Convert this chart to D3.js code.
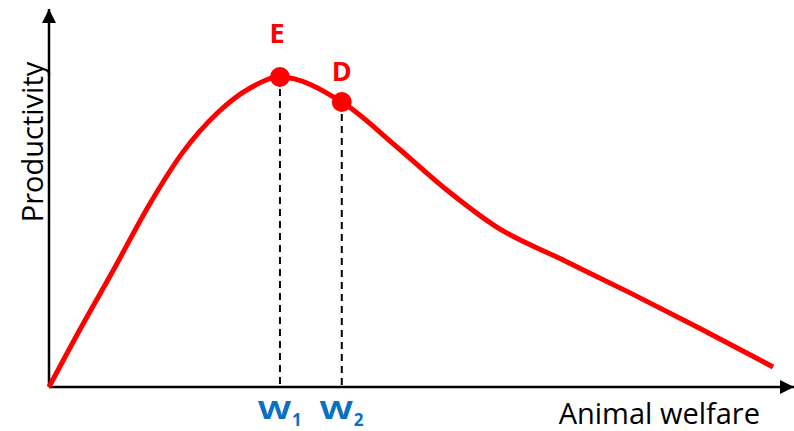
<!DOCTYPE html>
<html><head><meta charset="utf-8">
<script src="https://cdn.jsdelivr.net/npm/d3@7"></script>
<style>body{margin:0;background:#fff}svg{display:block}</style>
</head><body>
<svg id="c" width="794" height="431"></svg>
<script>
// Data (abstract units)
const curveX = [0, 0.39, 0.85, 1.36, 1.80, 2.26, 2.70, 3.10, 3.93, 4.67, 5.34, 6.01, 6.90, 7.80, 8.70, 9.72];
const curveY = [0, 1.43, 3.04, 4.87, 6.22, 7.25, 7.91, 8.20, 7.54, 6.35, 5.21, 4.23, 3.36, 2.49, 1.59, 0.53];
const pointNames = ["E", "D"];
const pointX = [3.10, 3.93];
const pointY = [8.20, 7.54];
const tickLabels = ["1", "2"];
const xTitle = "Animal welfare";
const yTitle = "Productivity";

const svg = d3.select("#c");
const x = d3.scaleLinear().domain([0, 10]).range([49, 794]);
const y = d3.scaleLinear().domain([0, 10]).range([387, 9]);

const defs = svg.append("defs");
defs.append("marker").attr("id","arr").attr("viewBox","0 0 10 10").attr("refX",10).attr("refY",5)
  .attr("markerWidth",14).attr("markerHeight",14).attr("markerUnits","userSpaceOnUse").attr("orient","auto")
  .append("path").attr("d","M0,0 L10,5 L0,10 Z").attr("fill","#000");

// axes
svg.append("line").attr("x1",x(0)).attr("y1",y(0)).attr("x2",x(10)).attr("y2",y(0))
  .attr("stroke","#000").attr("stroke-width",2.5).attr("marker-end","url(#arr)");
svg.append("line").attr("x1",x(0)).attr("y1",y(0)).attr("x2",x(0)).attr("y2",y(10))
  .attr("stroke","#000").attr("stroke-width",2.5).attr("marker-end","url(#arr)");

// dashed drop lines
pointX.forEach((px,i)=>{
  svg.append("line").attr("x1",x(px)).attr("x2",x(px)).attr("y1",y(pointY[i])).attr("y2",y(0))
    .attr("stroke","#000").attr("stroke-width",2).attr("stroke-dasharray","7,5");
});

// curve
const data = curveX.map((v,i)=>[v, curveY[i]]);
svg.append("path").datum(data)
  .attr("d", d3.line().x(d=>x(d[0])).y(d=>y(d[1])).curve(d3.curveMonotoneX))
  .attr("fill","none").attr("stroke","#ff0000").attr("stroke-width",5).attr("stroke-linecap","butt");

// points
pointX.forEach((px,i)=>{
  svg.append("circle").attr("cx",x(px)).attr("cy",y(pointY[i])).attr("r",10).attr("fill","#ff0000");
  svg.append("text").attr("x",x(px) + (i===0? -3 : 0)).attr("y",y(pointY[i]) - (i===0?34:21))
    .attr("text-anchor","middle").attr("font-family","Open Sans").attr("font-weight","bold")
    .attr("font-size",27).attr("fill","#ff0000").text(pointNames[i]);
});

// W labels
pointX.forEach((px,i)=>{
  const t = svg.append("text").attr("x",x(px)-22).attr("y",419)
    .attr("font-family","Open Sans").attr("font-weight","bold").attr("fill","#0a70c0").attr("font-size",25);
  t.append("tspan").attr("textLength",33).attr("lengthAdjust","spacingAndGlyphs").text("W");
  t.append("tspan").attr("font-size",17).attr("dx",1).attr("dy",7).text(tickLabels[i]);
});

// titles
svg.append("text").attr("x",760).attr("y",424).attr("text-anchor","end")
  .attr("font-family","Open Sans").attr("font-size",29).attr("fill","#000").text(xTitle);
svg.append("text").attr("transform","translate(43,142) rotate(-90)").attr("text-anchor","middle")
  .attr("font-family","Open Sans").attr("font-size",29).attr("fill","#000").text(yTitle);
</script>
</body></html>
